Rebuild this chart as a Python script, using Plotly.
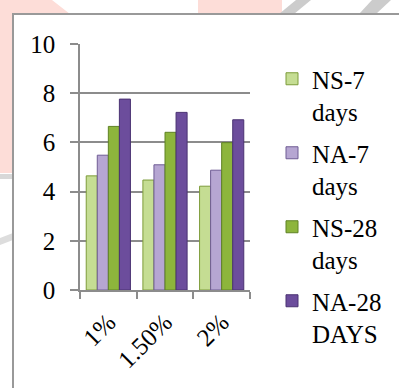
import plotly.graph_objects as go

categories = ["1%", "1.50%", "2%"]
series_names = ["NS-7<br>days", "NA-7<br>days", "NS-28<br>days", "NA-28<br>DAYS"]
ns7 = [4.64, 4.47, 4.22]
na7 = [5.48, 5.09, 4.87]
ns28 = [6.65, 6.41, 5.99]
na28 = [7.76, 7.22, 6.92]
y_ticks = [0, 2, 4, 6, 8, 10]

series_values = [ns7, na7, ns28, na28]
fill_colors = ["#c5dd93", "#b6a6d2", "#8db53c", "#6c4d9c"]
edge_colors = ["#7d9c3a", "#6f5c94", "#5f8224", "#4a3272"]

W, H = 399, 388
L, R, T, B = 80, 149, 8, 8
pw, ph = W - L - R, H - T - B
# plot area in pixels
AX_TOP, AX_BOT = 44, 290
FONT = "Liberation Serif"

def px(x):
    return (x - L) / pw

def py(y):
    return (H - B - y) / ph

fig = go.Figure()
for i, (name, vals, fc, ec) in enumerate(zip(series_names, series_values, fill_colors, edge_colors)):
    fig.add_trace(go.Bar(
        x=categories, y=vals, name=name, legendgroup=f"g{i}",
        marker=dict(color=fc, line=dict(color=ec, width=1)),
    ))

def poly(points, color):
    d = "M " + " L ".join(f"{px(a):.4f},{py(b):.4f}" for a, b in points) + " Z"
    return dict(type="path", xref="paper", yref="paper", path=d,
                fillcolor=color, line=dict(width=0), layer="below")

shapes = [
    poly([(0, 0), (52, 0), (70, 14), (13, 14), (13, 173), (0, 173)], "#fdddd8"),
    poly([(198, 0), (282, 0), (282, 14), (198, 14)], "#fdddd8"),
    poly([(296, 0), (311, 0), (294, 14), (279, 14)], "#cccccc"),
    poly([(372, 0), (391, 0), (376, 14), (359, 14)], "#cccccc"),
    poly([(0, 174), (13, 174), (13, 179), (0, 179)], "#d8d8d8"),
    poly([(0, 238), (13, 233), (13, 240), (0, 245)], "#dddddd"),
    dict(type="path", xref="paper", yref="paper",
         path=f"M {px(13):.4f},{py(400):.4f} L {px(13):.4f},{py(14):.4f} L {px(410):.4f},{py(14):.4f}",
         line=dict(color="#999999", width=2)),
]

fig.update_layout(
    width=W, height=H,
    margin=dict(l=L, r=R, t=T, b=B, pad=0, autoexpand=False),
    paper_bgcolor="white", plot_bgcolor="white",
    barmode="group", bargap=0.22, bargroupgap=0,
    font=dict(family=FONT, size=25, color="black"),
    showlegend=True,
    legend=dict(x=px(272), y=py(56), xanchor="left", yanchor="top",
                valign="top", font=dict(family=FONT, size=25, color="black"), itemwidth=30,
                bgcolor="rgba(0,0,0,0)", tracegroupgap=6),
    shapes=shapes,
)
fig.update_yaxes(range=[0, 10], tickvals=y_ticks, showgrid=True, gridcolor="#8c8c8c",
                 domain=[py(AX_BOT), py(AX_TOP)],
                 gridwidth=1.5, showline=True, linecolor="#8c8c8c", linewidth=1.5,
                 ticks="outside", ticklen=8, tickcolor="#8c8c8c", tickwidth=1.5,
                 zeroline=False, ticklabelstandoff=10,
                 tickfont=dict(family=FONT, size=25, color="black"))
fig.update_xaxes(showline=True, linecolor="#8c8c8c", linewidth=1.5, ticks="outside",
                 tickson="boundaries", ticklen=7, tickcolor="#8c8c8c", tickwidth=1.5,
                 tickangle=-45, showgrid=False, ticklabelstandoff=6,
                 tickfont=dict(family=FONT, size=25, color="black"))

fig.write_html("out.html", config={"displayModeBar": False},
               post_script="document.body.style.margin='0';")
